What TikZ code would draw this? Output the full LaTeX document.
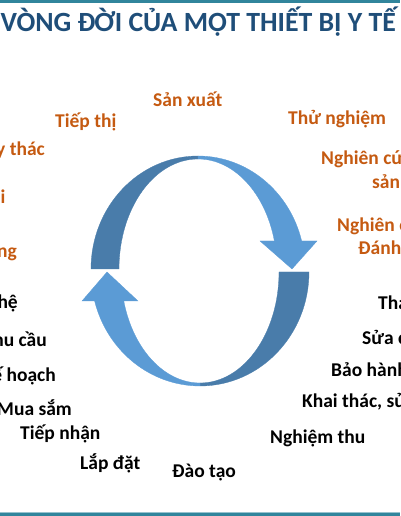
\documentclass[tikz,border=0pt]{standalone}
\usepackage{fontspec}
\setmainfont{Carlito}
\definecolor{titleblue}{HTML}{1F4E79}
\definecolor{txtorange}{HTML}{C55A11}
\definecolor{arrdark}{HTML}{497CAA}
\definecolor{arrlight}{HTML}{5B9BD5}
\definecolor{teal}{HTML}{31859C}
\begin{document}
\begin{tikzpicture}[x=1pt,y=1pt,
  otext/.style={font=\fontsize{19.5}{22}\selectfont\bfseries, text=txtorange, inner sep=0pt},
  btext/.style={font=\fontsize{19.5}{22}\selectfont\bfseries, text=black, inner sep=0pt},
  darkpart/.style={fill=arrdark, draw=arrdark, line width=0.3pt},
  lightpart/.style={fill=arrlight, draw=arrlight, line width=0.3pt}]
\useasboundingbox (0,0) rectangle (400,516);
\clip (0,0) rectangle (400,516);
% frame lines
\fill[teal] (0,513.3) rectangle (400,516);
\fill[teal] (0,0) rectangle (400,3);
\fill[teal!50] (0,3) rectangle (400,3.6);
% title
\node[anchor=base west, inner sep=0pt, text=titleblue, font=\fontsize{27.8}{32}\selectfont\bfseries] (title) at (0.5,484) {VÒNG ĐỜI CỦA MỘT THIẾT BỊ Y TẾ};
% top curved arrow
\fill[darkpart] (91,247) arc[start angle=180, end angle=90, x radius=107pt, y radius=113pt]
  -- (198,357) arc[start angle=90, end angle=180, x radius=79pt, y radius=110pt] -- cycle;
\fill[lightpart] (198,360) arc[start angle=90, end angle=14.35, x radius=107pt, y radius=113pt]
  -- (317,275) -- (292,247) -- (260,275) -- (274.4,275)
  arc[start angle=14.75, end angle=90, x radius=79pt, y radius=110pt] -- cycle;
% bottom curved arrow
\fill[darkpart] (309,244) arc[start angle=0, end angle=-90, x radius=109pt, y radius=114pt]
  -- (200,133) arc[start angle=-90, end angle=0, x radius=79pt, y radius=111pt] -- cycle;
\fill[lightpart] (200,130) arc[start angle=-90, end angle=-165.26, x radius=109pt, y radius=114pt]
  -- (82,215) -- (107,244) -- (138,215) -- (123.75,215)
  arc[start angle=-164.85, end angle=-90, x radius=79pt, y radius=111pt] -- cycle;
% orange labels
\node[otext, anchor=base west] (sx) at (153,409) {Sản xuất};
\node[otext, anchor=base west] (tt) at (55,388) {Tiếp thị};
\node[otext, anchor=base east] (ut) at (45,360) {y thác};
\node[otext, anchor=base east] (oi) at (5.5,312) {i};
\node[otext, anchor=base east] (ng) at (17,258) {ng};
\node[otext, anchor=base west] (tn) at (288,391) {Thử nghiệm};
\node[otext, anchor=base west] (nc1) at (321,351) {Nghiên cứ};
\node[otext, anchor=base west] (sp) at (372,327) {sản};
\node[otext, anchor=base west] (nc2) at (337,284) {Nghiên c};
\node[otext, anchor=base west] (dg) at (358,261) {Đánh};
% black labels
\node[btext, anchor=base east] (lh) at (18,207) {hệ};
\node[btext, anchor=base east] (nhc) at (47,169) {hu cầu};
\node[btext, anchor=base east] (kh) at (56,134) {ế hoạch};
\node[btext, anchor=base east] (ms) at (72,100) {Mua sắm};
\node[btext, anchor=base west] (tnh) at (20,76) {Tiếp nhận};
\node[btext, anchor=base west] (ld) at (80,46) {Lắp đặt};
\node[btext, anchor=base west] (dt) at (172,38) {Đào tạo};
\node[btext, anchor=base west] (nt) at (270,72) {Nghiệm thu};
\node[btext, anchor=base west] (kt) at (302,108) {Khai thác, sử};
\node[btext, anchor=base west] (bh) at (331,139) {Bảo hành};
\node[btext, anchor=base west] (sc) at (362,171) {Sửa c};
\node[btext, anchor=base west] (th) at (378,206) {Tha};
\end{tikzpicture}
\end{document}
